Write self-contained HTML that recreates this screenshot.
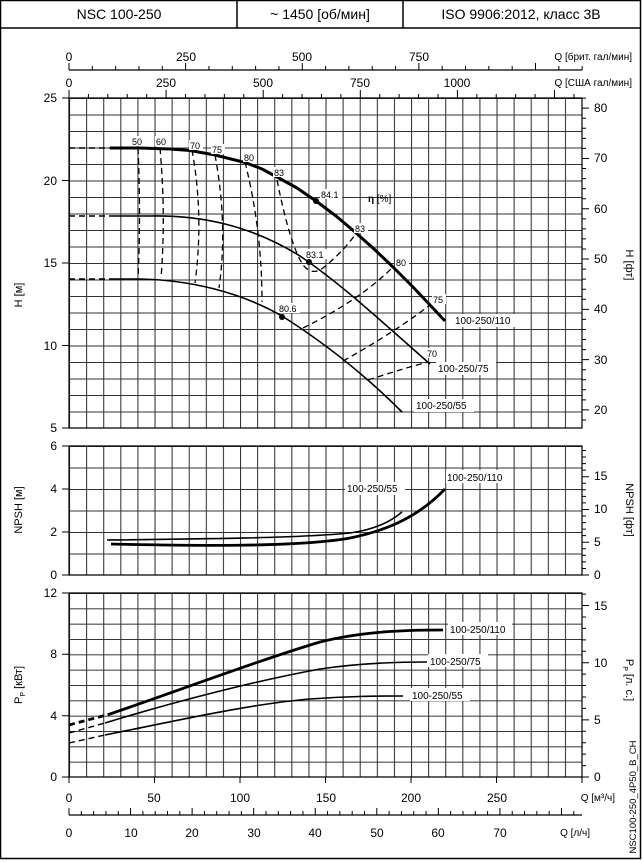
<!DOCTYPE html>
<html><head><meta charset="utf-8"><style>
html,body{margin:0;padding:0;background:#fff}
svg{display:block;font-family:"Liberation Sans",sans-serif}
</style></head><body>
<svg id="s" width="642" height="862" viewBox="0 0 642 862" xmlns="http://www.w3.org/2000/svg">
<defs>
<pattern id="gh" x="69" y="98" width="17.1" height="16.5" patternUnits="userSpaceOnUse"><path d="M0,0.5H17.1M0.5,0V16.5" stroke="#333" stroke-width="1.1" fill="none"/></pattern>
<pattern id="gn" x="69" y="446" width="17.1" height="21.5" patternUnits="userSpaceOnUse"><path d="M0,0.5H17.1M0.5,0V21.5" stroke="#333" stroke-width="1.1" fill="none"/></pattern>
<pattern id="gp" x="69" y="593" width="17.1" height="15.333" patternUnits="userSpaceOnUse"><path d="M0,0.5H17.1M0.5,0V15.333" stroke="#333" stroke-width="1.1" fill="none"/></pattern>
</defs>
<rect x="0.5" y="0.5" width="640" height="858" fill="none" stroke="#000" stroke-width="1.5"/>
<line x1="0" y1="28" x2="641" y2="28" stroke="#000" stroke-width="1.5"/>
<line x1="237" y1="0" x2="237" y2="28" stroke="#000" stroke-width="1.5"/>
<line x1="403" y1="0" x2="403" y2="28" stroke="#000" stroke-width="1.5"/>
<g font-size="14" text-anchor="middle">
<text x="119" y="19">NSC 100-250</text><text x="320" y="19">~ 1450 [об/мин]</text><text x="521" y="19">ISO 9906:2012, класс 3B</text></g>

<rect x="69" y="98" width="513" height="330" fill="url(#gh)"/>
<rect x="69" y="446" width="513" height="129" fill="url(#gn)"/>
<rect x="69" y="593" width="513" height="184" fill="url(#gp)"/>
<g stroke="#000" stroke-width="1.2" fill="none">
<path d="M69,98H582V428H69ZM69,446H582V575H69ZM69,593H582V777H69Z"/>
<path d="M69,70H582M69,815H582"/>
</g>
<g id="ticks" stroke="#000" stroke-width="1"></g>

<g font-size="12" text-anchor="middle">
<text x="69" y="61">0</text><text x="186" y="61">250</text><text x="302" y="61">500</text><text x="419" y="61">750</text>
<text x="69" y="87">0</text><text x="166" y="87">250</text><text x="263" y="87">500</text><text x="360" y="87">750</text><text x="457" y="87">1000</text>
<text x="69" y="802">0</text><text x="154" y="802">50</text><text x="240" y="802">100</text><text x="326" y="802">150</text><text x="411" y="802">200</text><text x="497" y="802">250</text>
<text x="69" y="837">0</text><text x="131" y="837">10</text><text x="192" y="837">20</text><text x="254" y="837">30</text><text x="315" y="837">40</text><text x="377" y="837">50</text><text x="438" y="837">60</text><text x="500" y="837">70</text>
</g>
<g font-size="10" text-anchor="end">
<text x="632" y="60">Q [брит. гал/мин]</text><text x="632" y="86">Q [США гал/мин]</text>
<text x="615" y="801">Q [м³/ч]</text><text x="590" y="836">Q [л/ч]</text>
</g>
<g font-size="12" text-anchor="end">
<text x="57" y="102">25</text><text x="57" y="185">20</text><text x="57" y="267">15</text><text x="57" y="350">10</text><text x="57" y="432">5</text>
<text x="57" y="450">6</text><text x="57" y="493">4</text><text x="57" y="536">2</text><text x="57" y="579">0</text>
<text x="57" y="597">12</text><text x="57" y="658">8</text><text x="57" y="720">4</text><text x="57" y="781">0</text>
</g>
<g font-size="12">
<text x="594" y="112">80</text><text x="594" y="162">70</text><text x="594" y="213">60</text><text x="594" y="263">50</text><text x="594" y="313">40</text><text x="594" y="364">30</text><text x="594" y="414">20</text>
<text x="594" y="480">15</text><text x="594" y="513">10</text><text x="594" y="546">5</text><text x="594" y="579">0</text>
<text x="594" y="610">15</text><text x="594" y="667">10</text><text x="594" y="724">5</text><text x="594" y="781">0</text>
</g>
<g font-size="11" text-anchor="middle">
<text transform="translate(22,295) rotate(-90)">H [м]</text>
<text transform="translate(22,510) rotate(-90)">NPSH [м]</text>
<text transform="translate(22,685) rotate(-90)">P<tspan font-size="7" dy="3">P</tspan><tspan dy="-3"> [кВт]</tspan></text>
<text transform="translate(626,265) rotate(90)">H [фт]</text>
<text transform="translate(626,510) rotate(90)">NPSH [фт]</text>
<text transform="translate(626,680) rotate(90)">P<tspan font-size="7" dy="3">P</tspan><tspan dy="-3"> [л. с.]</tspan></text>
<text transform="translate(636,797) rotate(-90)" font-size="9.5">NSC100-250_4P50_B_CH</text>
</g>

<!-- efficiency iso lines -->
<g stroke="#000" stroke-width="1.3" fill="none" stroke-dasharray="6,4">
<path d="M138,148 Q141,215 138,278"/>
<path d="M160,148 Q166,216 161,278"/>
<path d="M192,150 Q204,216 195,283"/>
<path d="M215,155 Q228,225 219,288"/>
<path d="M245,162 Q262,230 262,302"/>
<path d="M277,180 Q290,245 303,265 Q312,276 323,268 Q345,250 357,232"/>
<path d="M303,328 Q360,300 393,267"/>
<path d="M343,361 Q395,332 430,305"/>
<path d="M368,380 Q405,368 428,362"/>
<path d="M69,148H110M69,216H110M69,279H110" stroke-width="1.5"/>
<path d="M69,725 L110,714" stroke-width="2.8"/>
<path d="M69,733 L105,723M69,743 L105,735" stroke-width="1.4"/>
</g>
<!-- H curves -->
<g stroke="#000" fill="none" stroke-linejoin="round">
<polyline points="110,148 140,148 170,149 190,150.5 215,155 245,162.5 262,169 277,177 297,188 316,201 336,216 355,232 374,249 393,267 412,286 430,305 445,321" stroke-width="3"/>
<path d="M110,216 L150,216 C200,215 250,225 300,256 C340,283 380,320 430,364" stroke-width="1.6"/>
<path d="M110,279 L140,279 C190,280 240,292 282,316 C320,340 360,370 402,412" stroke-width="1.6"/>
<!-- NPSH -->
<path d="M107,540 C200,539 300,538 350,533 C380,529 395,518 402,512" stroke-width="1.6"/>
<path d="M111,544 C200,546 300,547 350,538 C390,530 420,515 445,489" stroke-width="2.8"/>
<!-- power -->
<path d="M110,714 C180,690 260,660 320,642 C360,632 400,630 443,630" stroke-width="2.8"/>
<path d="M105,723 C180,700 260,680 320,669 C360,663 400,662 427,662" stroke-width="1.6"/>
<path d="M105,735 C180,720 250,704 310,699 C350,696 380,696 403,696" stroke-width="1.6"/>
</g>
<g fill="#000"><circle cx="316" cy="201" r="3"/><circle cx="309" cy="262" r="3"/><circle cx="282" cy="317" r="3"/></g>
<g font-size="9">
<g fill="#fff"><rect x="130" y="136" width="14" height="10"/><rect x="155" y="136" width="14" height="10"/><rect x="189" y="140" width="14" height="10"/><rect x="211" y="144" width="14" height="10"/><rect x="243" y="152" width="14" height="10"/><rect x="273" y="167" width="14" height="10"/><rect x="320" y="189" width="22" height="10"/><rect x="354" y="223" width="14" height="10"/><rect x="395" y="257" width="14" height="10"/><rect x="432" y="294" width="14" height="10"/><rect x="426" y="348" width="14" height="10"/><rect x="305" y="249" width="22" height="10"/><rect x="278" y="303" width="22" height="10"/></g>
<text x="132" y="145">50</text><text x="156" y="145">60</text><text x="190" y="149">70</text><text x="212" y="153">75</text><text x="244" y="161">80</text><text x="274" y="176">83</text><text x="321" y="198">84.1</text><text x="355" y="232">83</text><text x="396" y="266">80</text><text x="433" y="303">75</text><text x="427" y="357">70</text><text x="306" y="258">83.1</text><text x="279" y="312">80.6</text>
<text x="368" y="202" font-size="10" font-weight="bold">η <tspan font-weight="normal">[%]</tspan></text>
</g>
<g font-size="10">
<g fill="#fff"><rect x="452" y="314" width="64" height="13"/><rect x="436" y="362" width="60" height="13"/><rect x="414" y="399" width="60" height="13"/><rect x="345" y="482" width="60" height="13"/><rect x="446" y="470" width="64" height="13"/><rect x="448" y="622" width="64" height="13"/><rect x="428" y="654" width="60" height="13"/><rect x="410" y="688" width="60" height="13"/></g>
<text x="455" y="324">100-250/110</text><text x="438" y="372">100-250/75</text><text x="416" y="409">100-250/55</text>
<text x="347" y="492">100-250/55</text><text x="447" y="481">100-250/110</text>
<text x="450" y="633">100-250/110</text><text x="430" y="665">100-250/75</text><text x="412" y="699">100-250/55</text>
</g>
</svg>
<script>
(function(){
var g=document.getElementById('ticks'),d='';
function L(x1,y1,x2,y2){d+='M'+x1+','+y1+'L'+x2+','+y2;}
for(var b=0;b<=1100;b+=50){var x=69+b*0.4665;L(x,70,x,b%250==0?63:66);}
for(var u=0;u<=1300;u+=50){var x=69+u*0.3884;L(x,98,x,u%250==0?90:94);}
for(var l=0;l<=82;l+=2){var x=69+l*6.156;L(x,815,x,l%10==0?808:811);}
for(var q=0;q<=300;q+=50){var x=69+q*1.71;L(x,777,x,783);}
[98,180.5,263,345.5,428,446,489,532,575,593,654.3,715.7,777].forEach(function(y){L(62,y,69,y);});
for(var f=18;f<=82;f+=2){var y=428-(f/3.281-5)*16.5;L(582,y,f%10==0?589:586,y);}
for(var f=0;f<=19;f++){var y=575-f*6.553;L(582,y,f%5==0?589:586,y);}
for(var h=0;h<=16;h++){var y=777-h*11.43;L(582,y,h%5==0?589:586,y);}
var p=document.createElementNS('http://www.w3.org/2000/svg','path');p.setAttribute('d',d);g.appendChild(p);
})();
</script>
</body></html>
